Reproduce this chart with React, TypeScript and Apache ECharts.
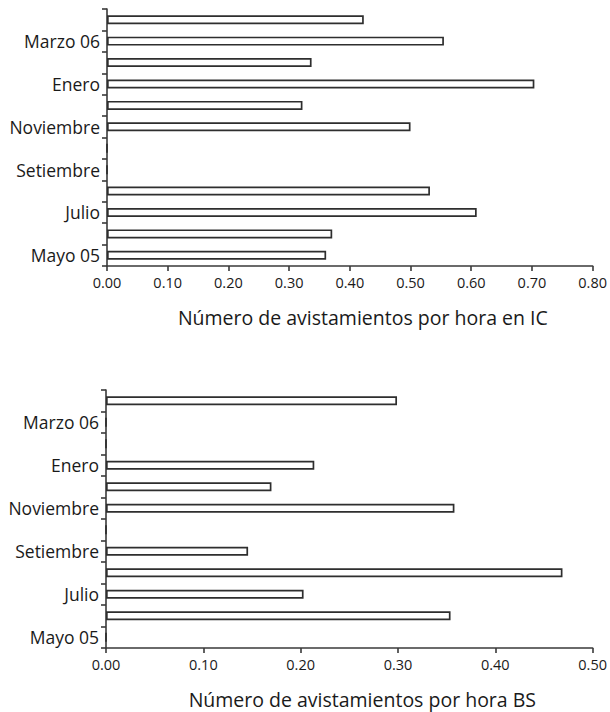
import React, { useEffect, useRef } from "react";
import * as echarts from "echarts";

const months = [
  "Mayo 05", "Junio", "Julio", "Agosto", "Setiembre", "Octubre",
  "Noviembre", "Diciembre", "Enero", "Febrero", "Marzo 06", "Abril",
];
const valuesIC = [0.361, 0.371, 0.609, 0.532, 0, 0, 0.5, 0.322, 0.704, 0.337, 0.555, 0.423];
const valuesBS = [0, 0.354, 0.203, 0.469, 0.146, 0, 0.358, 0.17, 0.214, 0, 0, 0.299];
const ticksIC = { min: 0, max: 0.8, interval: 0.1 };
const ticksBS = { min: 0, max: 0.5, interval: 0.1 };
const titleIC = "Número de avistamientos por hora en IC";
const titleBS = "Número de avistamientos por hora BS";

const FONT = "'Open Sans', 'Noto Sans', sans-serif";
const TEXT = "#1a1a1a";
const LINE = "#3a3a3a";

export default function App() {
  const ref = useRef<HTMLDivElement>(null);
  useEffect(() => {
    document.body.style.margin = "0";
    const chart = echarts.init(ref.current!, null, { renderer: "svg" });
    const xAxisBase = (t: any, name: string, gridIndex: number) => ({
      type: "value",
      gridIndex,
      min: t.min,
      max: t.max,
      interval: t.interval,
      name,
      nameLocation: "middle",
      nameGap: 41,
      nameTextStyle: { fontFamily: FONT, fontSize: 19.5, color: TEXT, padding: [0, 0, 0, 26] },
      axisLine: { show: true, lineStyle: { color: LINE, width: 1.6 } },
      axisTick: { show: true, length: 5, lineStyle: { color: LINE, width: 1.6 } },
      axisLabel: {
        fontFamily: FONT, fontSize: 14.5, color: TEXT, margin: 9,
        formatter: (v: number) => v.toFixed(2),
      },
      splitLine: { show: false },
    });
    const yAxisBase = (gridIndex: number) => ({
      type: "category",
      gridIndex,
      data: months,
      axisLine: { show: true, lineStyle: { color: LINE, width: 1.6 } },
      axisTick: { show: true, interval: 0, length: 5, lineStyle: { color: LINE, width: 1.6 } },
      axisLabel: { interval: 1, fontFamily: FONT, fontSize: 17.5, color: TEXT, margin: 7 },
    });
    const barSeries = (data: number[], idx: number) => ({
      type: "bar",
      xAxisIndex: idx,
      yAxisIndex: idx,
      data,
      barWidth: 9,
      itemStyle: { color: "#ffffff", borderColor: "#2e2e2e", borderWidth: 1.7 },
      silent: true,
    });
    chart.setOption({
      animation: false,
      backgroundColor: "#ffffff",
      grid: [
        { left: 107, right: 13, top: 9, height: 257 },
        { left: 106, right: 13, top: 390, height: 258 },
      ],
      xAxis: [xAxisBase(ticksIC, titleIC, 0), xAxisBase(ticksBS, titleBS, 1)],
      yAxis: [yAxisBase(0), yAxisBase(1)],
      series: [barSeries(valuesIC, 0), barSeries(valuesBS, 1)],
    });
    return () => chart.dispose();
  }, []);
  return <div ref={ref} style={{ width: 610, height: 712 }} />;
}
